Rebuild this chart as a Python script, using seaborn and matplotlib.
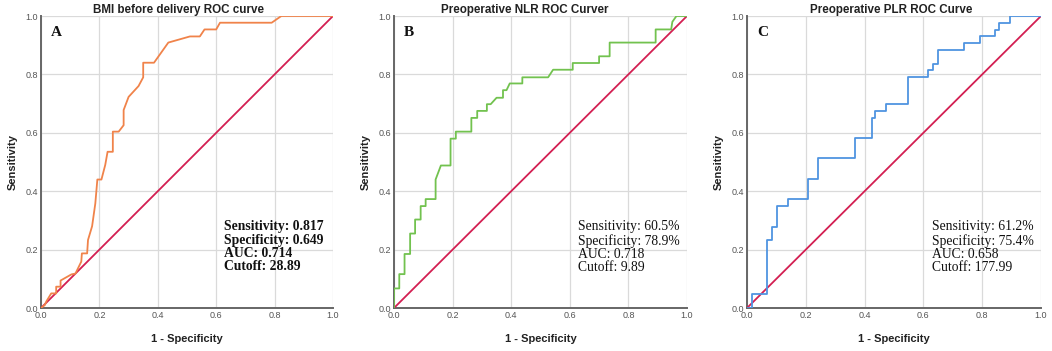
import numpy as np
import pandas as pd
import matplotlib
matplotlib.use("Agg")
import matplotlib.pyplot as plt
import seaborn as sns

# ---- data ----
titles = ["BMI before delivery ROC curve", "Preoperative NLR ROC Curver", "Preoperative PLR ROC Curve"]
panel_letters = ["A", "B", "C"]

bmi_fpr = [0.0, 0.013, 0.018, 0.035, 0.035, 0.052, 0.052, 0.067, 0.067, 0.104, 0.118, 0.138, 0.14, 0.158,
           0.161, 0.175, 0.186, 0.193, 0.207, 0.22, 0.228, 0.246, 0.246, 0.266, 0.283, 0.283, 0.30, 0.334,
           0.35, 0.35, 0.387, 0.436, 0.51, 0.544, 0.56, 0.60, 0.613, 0.79, 0.823, 1.0]
bmi_tpr = [0.0, 0.01, 0.022, 0.05, 0.05, 0.05, 0.073, 0.073, 0.094, 0.115, 0.118, 0.159, 0.187, 0.187,
           0.233, 0.28, 0.358, 0.44, 0.44, 0.49, 0.535, 0.535, 0.604, 0.604, 0.626, 0.678, 0.723, 0.76,
           0.79, 0.84, 0.84, 0.909, 0.93, 0.93, 0.954, 0.954, 0.977, 0.977, 1.0, 1.0]

nlr_fpr = [0.0, 0.0, 0.018, 0.018, 0.036, 0.036, 0.055, 0.055, 0.072, 0.072, 0.091, 0.091, 0.108, 0.108,
           0.142, 0.142, 0.16, 0.193, 0.193, 0.211, 0.211, 0.264, 0.264, 0.284, 0.284, 0.317, 0.317, 0.33,
           0.35, 0.372, 0.372, 0.384, 0.395, 0.438, 0.438, 0.526, 0.543, 0.61, 0.61, 0.70, 0.70, 0.736,
           0.736, 0.893, 0.893, 0.946, 0.95, 0.964, 1.0]
nlr_tpr = [0.0, 0.067, 0.067, 0.116, 0.116, 0.185, 0.185, 0.255, 0.255, 0.303, 0.303, 0.349, 0.349, 0.373,
           0.373, 0.44, 0.488, 0.488, 0.58, 0.58, 0.604, 0.604, 0.651, 0.651, 0.675, 0.675, 0.698, 0.698,
           0.72, 0.72, 0.746, 0.746, 0.769, 0.769, 0.79, 0.79, 0.816, 0.816, 0.839, 0.839, 0.862, 0.862,
           0.909, 0.909, 0.954, 0.954, 0.98, 1.0, 1.0]

plr_fpr = [0.0, 0.016, 0.016, 0.068, 0.068, 0.085, 0.085, 0.103, 0.103, 0.139, 0.139, 0.209, 0.209, 0.243,
           0.243, 0.367, 0.367, 0.425, 0.425, 0.437, 0.437, 0.472, 0.472, 0.546, 0.546, 0.616, 0.616, 0.632,
           0.632, 0.649, 0.649, 0.739, 0.739, 0.791, 0.791, 0.842, 0.842, 0.858, 0.858, 0.896, 0.896, 1.0]
plr_tpr = [0.0, 0.0, 0.047, 0.047, 0.233, 0.233, 0.279, 0.279, 0.349, 0.349, 0.372, 0.372, 0.442, 0.442,
           0.512, 0.512, 0.581, 0.581, 0.651, 0.651, 0.674, 0.674, 0.698, 0.698, 0.791, 0.791, 0.814, 0.814,
           0.837, 0.837, 0.884, 0.884, 0.907, 0.907, 0.930, 0.930, 0.953, 0.953, 0.977, 0.977, 1.0, 1.0]

stats_text = [
    ["Sensitivity: 0.817", "Specificity: 0.649", "AUC: 0.714", "Cutoff: 28.89"],
    ["Sensitivity: 60.5%", "Specificity: 78.9%", "AUC: 0.718", "Cutoff: 9.89"],
    ["Sensitivity: 61.2%", "Specificity: 75.4%", "AUC: 0.658", "Cutoff: 177.99"],
]
stats_bold = [True, False, False]
curve_colors = ["#f0834a", "#72c24f", "#4f94e0"]
diag_color = "#d31f52"
ticks = [0.0, 0.2, 0.4, 0.6, 0.8, 1.0]
tick_labels = ["0.0", "0.2", "0.4", "0.6", "0.8", "1.0"]

curves = [(bmi_fpr, bmi_tpr), (nlr_fpr, nlr_tpr), (plr_fpr, plr_tpr)]

sns.set_theme(style="white")
plt.rcParams['font.family'] = ['Liberation Sans', 'DejaVu Sans']

fig = plt.figure(figsize=(10.52, 3.51), dpi=100)
W, H = 1052, 351
axes_px = [(41, 333), (394, 687), (747, 1041)]
title_cx_px = [178.5, 525, 891]
top_px, bot_px = 16, 308

for i, (x0, x1) in enumerate(axes_px):
    ax = fig.add_axes([x0 / W, 1 - bot_px / H, (x1 - x0) / W, (bot_px - top_px) / H])
    fpr, tpr = curves[i]
    df = pd.DataFrame({"fpr": fpr, "tpr": tpr})
    diag = pd.DataFrame({"x": [0.0, 1.0], "y": [0.0, 1.0]})
    sns.lineplot(data=diag, x="x", y="y", ax=ax, color=diag_color, linewidth=1.3,
                 estimator=None, sort=False, zorder=3)
    sns.lineplot(data=df, x="fpr", y="tpr", ax=ax, color=curve_colors[i], linewidth=1.3,
                 estimator=None, sort=False, zorder=4)
    ax.set_xlim(0, 1)
    ax.set_ylim(0, 1)
    ax.set_xticks(ticks)
    ax.set_yticks(ticks)
    ax.set_xticklabels(tick_labels)
    ax.set_yticklabels(tick_labels)
    ax.tick_params(axis="both", labelsize=6.5, colors="#555555", length=0, pad=2)
    ax.grid(True, color="#dadada", linewidth=0.9)
    ax.set_axisbelow(True)
    for s in ["top", "right"]:
        ax.spines[s].set_visible(False)
    for s in ["left", "bottom"]:
        ax.spines[s].set_color("#666666")
        ax.spines[s].set_linewidth(1.4)
    ax.set_xlabel("1 - Specificity", fontsize=8, fontweight="bold", color="#222222", labelpad=10)
    ax.set_ylabel("Sensitivity", fontsize=8, fontweight="bold", color="#222222", labelpad=6)
    fig.text(title_cx_px[i] / W, 1 - 9.5 / H, titles[i], fontsize=8.35, fontweight="bold",
             color="#222222", ha="center", va="center")
    ax.text(0.035, 0.942, panel_letters[i], transform=ax.transAxes, fontsize=11, fontweight="bold",
            family=["Liberation Serif", "DejaVu Serif"], va="center", ha="left", color="#111111")
    ax.text(0.628, 0.30, "\n".join(stats_text[i]), transform=ax.transAxes, fontsize=9.8,
            fontweight="bold" if stats_bold[i] else "normal",
            family=["Liberation Serif", "DejaVu Serif"], va="top", ha="left", color="#111111",
            linespacing=1.03)

fig.savefig("out.png", dpi=100)
